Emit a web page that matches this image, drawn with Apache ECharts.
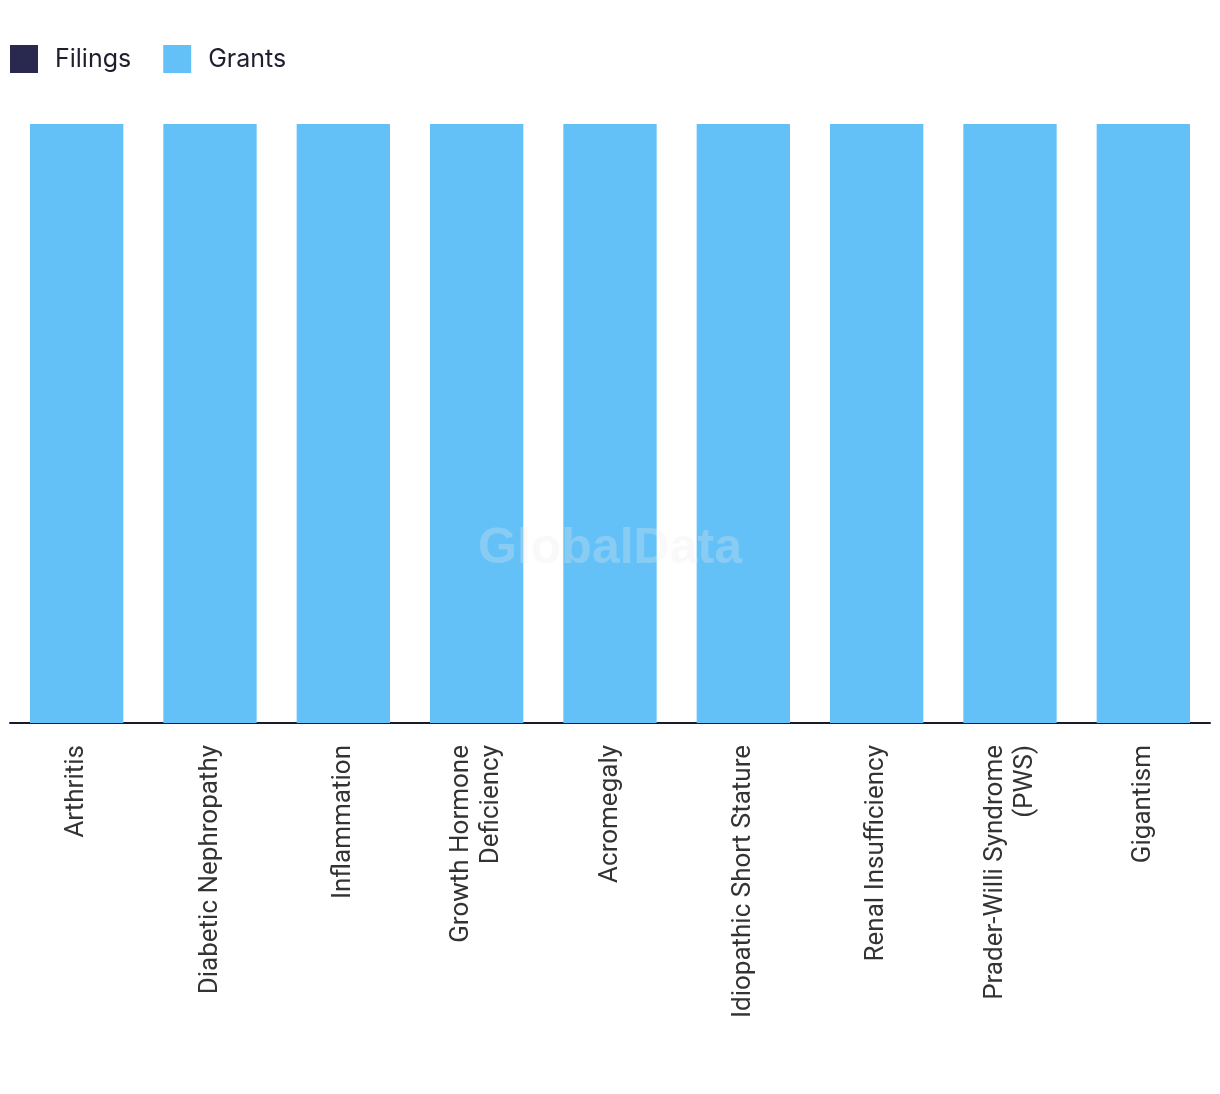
<!DOCTYPE html>
<html>
<head>
<meta charset="utf-8">
<script src="https://cdn.jsdelivr.net/npm/echarts@6/dist/echarts.min.js"></script>
<style>
html,body{margin:0;padding:0;background:#fff;}
#chart{width:1220px;height:1094px;}
</style>
</head>
<body>
<div id="chart"></div>
<script>
const categories = [
  'Arthritis',
  'Diabetic Nephropathy',
  'Inflammation',
  'Growth Hormone\nDeficiency',
  'Acromegaly',
  'Idiopathic Short Stature',
  'Renal Insufficiency',
  'Prader-Willi Syndrome\n(PWS)',
  'Gigantism'
];
const filings = [0, 0, 0, 0, 0, 0, 0, 0, 0];
const grants = [1, 1, 1, 1, 1, 1, 1, 1, 1];

const chart = echarts.init(document.getElementById('chart'));
chart.setOption({
  animation: false,
  backgroundColor: '#ffffff',
  legend: {
    left: 10,
    top: 45,
    padding: 0,
    itemWidth: 28,
    itemHeight: 28,
    itemGap: 32,
    icon: 'rect',
    textStyle: { fontFamily: 'Inter', fontSize: 25, color: '#1e1e2e', padding: [0, 0, 0, 12] },
    data: ['Filings', 'Grants']
  },
  graphic: [{
    type: 'text',
    left: 'center',
    top: 524,
    z: 100,
    style: {
      text: 'GlobalData',
      font: 'bold 50px "Liberation Sans", Arial, sans-serif',
      fill: 'rgba(235,235,235,0.28)'
    }
  }],
  grid: { left: 10, right: 10, top: 124, bottom: 371, containLabel: false },
  xAxis: {
    type: 'category',
    data: categories,
    axisLine: { show: true, lineStyle: { color: '#1a1a2e', width: 2 } },
    axisTick: { show: false },
    axisLabel: {
      rotate: 90,
      interval: 0,
      margin: 22,
      fontFamily: 'Roboto',
      fontSize: 26,
      lineHeight: 30,
      padding: [6, 0, 0, 0],
      color: '#333333'
    }
  },
  yAxis: {
    type: 'value',
    min: 0,
    max: 1,
    show: false,
    splitLine: { show: false }
  },
  series: [
    {
      name: 'Filings',
      type: 'bar',
      stack: 'total',
      barWidth: '70%',
      itemStyle: { color: '#29294f' },
      data: filings
    },
    {
      name: 'Grants',
      type: 'bar',
      stack: 'total',
      barWidth: '70%',
      itemStyle: { color: '#63c1f8' },
      data: grants
    }
  ]
});
</script>
</body>
</html>
